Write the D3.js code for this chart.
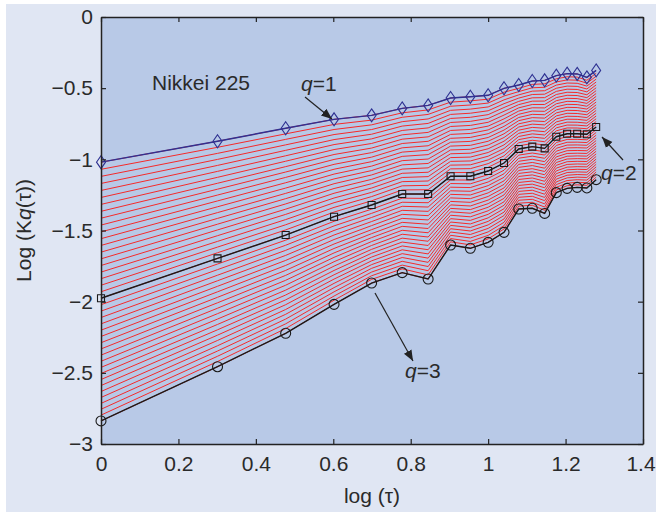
<!DOCTYPE html>
<html>
<head>
<meta charset="utf-8">
<script src="https://cdn.jsdelivr.net/npm/d3@7"></script>
<style>
  body { margin: 0; background: #fff; }
  svg text { font-family: "Liberation Sans", Arial, sans-serif; fill: #2a2a2a; }
</style>
</head>
<body>
<svg id="chart" width="656" height="515"></svg>
<script>
// log(tau) for tau = 1..19
const logTau = [0, 0.301, 0.477, 0.602, 0.699, 0.778, 0.845, 0.903, 0.954, 1.0,
  1.041, 1.079, 1.114, 1.146, 1.176, 1.204, 1.230, 1.255, 1.279];
const q1 = [-1.02, -0.873, -0.782, -0.719, -0.691, -0.642, -0.621, -0.569, -0.560, -0.550,
  -0.501, -0.478, -0.450, -0.445, -0.412, -0.398, -0.400, -0.424, -0.375];
const q2 = [-1.976, -1.696, -1.532, -1.403, -1.321, -1.244, -1.244, -1.119, -1.119, -1.082,
  -1.026, -0.927, -0.911, -0.923, -0.841, -0.820, -0.820, -0.824, -0.773];
const q3 = [-2.838, -2.457, -2.222, -2.019, -1.869, -1.796, -1.841, -1.602, -1.625, -1.583,
  -1.513, -1.349, -1.344, -1.380, -1.234, -1.204, -1.197, -1.201, -1.143];
const xTicks = [0, 0.2, 0.4, 0.6, 0.8, 1, 1.2, 1.4];
const yTicks = [0, -0.5, -1, -1.5, -2, -2.5, -3];
const qSteps = 40; // red curves for q = 1 .. 3 in steps of 0.05

const WIDTH = 656, HEIGHT = 515;
const MARGIN = { TOP: 17, LEFT: 101, RIGHT: 13, BOTTOM: 71 };
const FONT = 21;
const w = WIDTH - MARGIN.LEFT - MARGIN.RIGHT;
const h = HEIGHT - MARGIN.TOP - MARGIN.BOTTOM;

const svg = d3.select('#chart');
svg.append('rect')
  .attr('x', 6).attr('y', 4).attr('width', WIDTH - 6).attr('height', HEIGHT - 7)
  .attr('fill', '#e0e6f3');

const g = svg.append('g').attr('transform', `translate(${MARGIN.LEFT}, ${MARGIN.TOP})`);

const x = d3.scaleLinear().domain([0, 1.4]).range([0, w]);
const y = d3.scaleLinear().domain([-3, 0]).range([h, 0]);

g.append('rect').attr('width', w).attr('height', h).attr('fill', '#b8c9e7');

// quadratic blend through the three measured curves, used as hatching between them
function kq(i, q) {
  const a = q1[i], b = q2[i], c = q3[i];
  return a * (q - 2) * (q - 3) / 2 - b * (q - 1) * (q - 3) + c * (q - 1) * (q - 2) / 2;
}
const line = d3.line().x(d => x(d[0])).y(d => y(d[1]));
const hatch = d3.range(qSteps + 1).map(k => {
  const q = 1 + 2 * k / qSteps;
  return logTau.map((t, i) => [t, kq(i, q)]);
});
g.selectAll('.hatch')
  .data(hatch)
  .enter()
  .append('path')
  .attr('class', 'hatch')
  .attr('d', line)
  .attr('fill', 'none')
  .attr('stroke', '#f52a2a')
  .attr('stroke-width', 1);

const series = [
  { vals: q1, color: '#2e3192', marker: 'diamond' },
  { vals: q2, color: '#1a1a1a', marker: 'square' },
  { vals: q3, color: '#1a1a1a', marker: 'circle' }
];
const markerPath = {
  diamond: 'M0,-6.5L4.5,0L0,6.5L-4.5,0Z',
  square: 'M-3.5,-3.5H3.5V3.5H-3.5Z',
  circle: d3.symbol().type(d3.symbolCircle).size(78)()
};
series.forEach(s => {
  const pts = logTau.map((t, i) => [t, s.vals[i]]);
  g.append('path')
    .attr('d', line(pts))
    .attr('fill', 'none')
    .attr('stroke', s.color)
    .attr('stroke-width', 1.4);
  g.selectAll(null)
    .data(pts)
    .enter()
    .append('path')
    .attr('transform', d => `translate(${x(d[0])}, ${y(d[1])})`)
    .attr('d', markerPath[s.marker])
    .attr('fill', 'none')
    .attr('stroke', s.color)
    .attr('stroke-width', 1.1);
});

// axes with inward ticks on all four sides
const fmt = d => d < 0 ? '\u2212' + Math.abs(d) : String(d);
const axes = [
  { ax: d3.axisBottom(x).tickValues(xTicks).tickSizeInner(-5).tickSizeOuter(0).tickPadding(12).tickFormat(fmt), t: `translate(0, ${h})` },
  { ax: d3.axisTop(x).tickValues(xTicks).tickSizeInner(-5).tickSizeOuter(0).tickFormat(''), t: 'translate(0, 0)' },
  { ax: d3.axisLeft(y).tickValues(yTicks).tickSizeInner(-5).tickSizeOuter(0).tickPadding(8).tickFormat(fmt), t: 'translate(0, 0)' },
  { ax: d3.axisRight(y).tickValues(yTicks).tickSizeInner(-5).tickSizeOuter(0).tickFormat(''), t: `translate(${w}, 0)` }
];
axes.forEach((a, k) => {
  const ag = g.append('g').attr('transform', a.t).call(a.ax);
  ag.select('.domain').attr('stroke', '#222').attr('stroke-width', 1.5);
  ag.selectAll('.tick line').attr('stroke', '#222').attr('stroke-width', 1.2);
  ag.selectAll('.tick text').attr('font-size', FONT).attr('fill', '#2a2a2a')
    .style('font-family', '"Liberation Sans", Arial, sans-serif');
  if (k === 0) {
    // keep the last label inside the page edge
    ag.selectAll('.tick text').filter(d => d === 1.4).attr('dx', -2.5);
  }
});

// axis labels
svg.append('text')
  .attr('x', MARGIN.LEFT + w / 2).attr('y', 503)
  .attr('text-anchor', 'middle').attr('font-size', FONT)
  .text('log (\u03c4)');
const yl = svg.append('text')
  .attr('transform', `translate(31, ${MARGIN.TOP + h / 2}) rotate(-90)`)
  .attr('text-anchor', 'middle').attr('font-size', FONT);
yl.append('tspan').text('Log (K');
yl.append('tspan').attr('font-style', 'italic').text('q');
yl.append('tspan').text('(\u03c4))');

// annotations
svg.append('defs').append('marker')
  .attr('id', 'arrow').attr('viewBox', '0 0 10 10')
  .attr('refX', 10).attr('refY', 5)
  .attr('markerWidth', 9).attr('markerHeight', 9)
  .attr('orient', 'auto-start-reverse')
  .append('path').attr('d', 'M0,1L10,5L0,9Z').attr('fill', '#222');

svg.append('text').attr('x', 152).attr('y', 90).attr('font-size', FONT).text('Nikkei 225');

const notes = [
  { label: '1', tx: 301, ty: 91, x1: 305, y1: 97, x2: 332, y2: 119 },
  { label: '2', tx: 601, ty: 180, x1: 623, y1: 160, x2: 602, y2: 137 },
  { label: '3', tx: 405, ty: 378, x1: 375, y1: 293, x2: 413, y2: 361 }
];
notes.forEach(n => {
  const t = svg.append('text').attr('x', n.tx).attr('y', n.ty).attr('font-size', FONT);
  t.append('tspan').attr('font-style', 'italic').text('q');
  t.append('tspan').text('=' + n.label);
  svg.append('line')
    .attr('x1', n.x1).attr('y1', n.y1).attr('x2', n.x2).attr('y2', n.y2)
    .attr('stroke', '#222').attr('stroke-width', 1.2)
    .attr('marker-end', 'url(#arrow)');
});
</script>
</body>
</html>
